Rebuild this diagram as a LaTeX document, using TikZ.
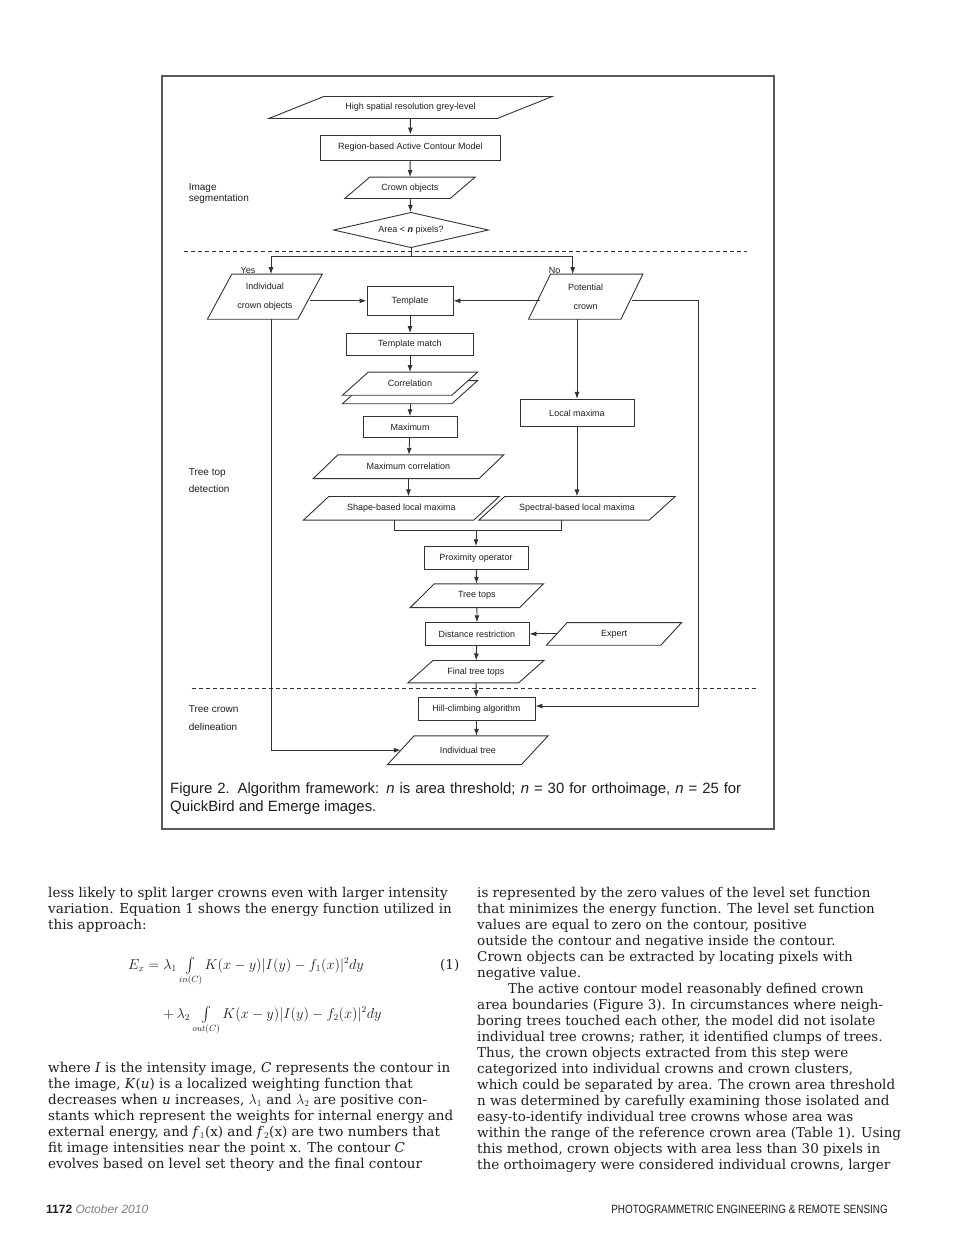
\documentclass[tikz,border=0pt]{standalone}
\usepackage{fontspec}
\setmainfont{DejaVu Serif}
\setsansfont{Liberation Sans}
\usetikzlibrary{shapes.geometric, arrows.meta}

\definecolor{inkc}{gray}{0.12}
\definecolor{linec}{gray}{0.2}
\newcommand{\flowfont}{\sffamily\fontsize{9}{10}\selectfont}
\newcommand{\paral}[3][]{\draw[flow, #1] ([xshift=#3]#2.north west) -- ([xshift=#3]#2.north east) -- ([xshift=-#3]#2.south east) -- ([xshift=-#3]#2.south west) -- cycle;}
\newcommand{\bigint}{\mathop{\vcenter{\hbox{\scalebox{1.5}{$\int$}}}}\limits}

\begin{document}
\begin{tikzpicture}[x=1pt, y=-1pt, >={Latex[length=7pt,width=5pt]},
  flow/.style={draw=linec, line width=0.9pt},
  box/.style={flow, rectangle, inner sep=0pt, font=\flowfont, text=inkc},
  para/.style={inner sep=0pt, font=\flowfont, text=inkc},
  twoline/.style={para, align=center, font=\sffamily\fontsize{9}{18.4}\selectfont},
  lbl/.style={anchor=west, inner sep=0pt, align=left, text=inkc, font=\sffamily\fontsize{10}{17.6}\selectfont},
  body/.style={anchor=base west, inner sep=0pt, text=inkc, font=\fontsize{13.5}{16}\selectfont},
  sep/.style={draw=linec, line width=0.8pt, dash pattern=on 4pt off 3pt}]
  \useasboundingbox (0,0) rectangle (960,1245);
  \fill[white] (0,0) rectangle (960,1245);
  \draw[gray!70!black, line width=1.6pt] (162,76) rectangle (774,829);

  \node[para, minimum width=228pt, minimum height=21.6pt] (hsr) at (410.5,107.5) {High spatial resolution grey-level};
  \node[box, minimum width=180.5pt, minimum height=25pt] (racm) at (410.3,147.5) {Region-based Active Contour Model};
  \node[para, minimum width=105pt, minimum height=21pt] (crown) at (410,187.8) {Crown objects};
  \node[flow, diamond, aspect=4.4, inner sep=0pt, minimum width=155pt, minimum height=35.4pt, font=\flowfont, text=inkc] (area) at (411,230) {Area < \textbf{\textit{n}} pixels?};
  \draw[sep] (183.8,251) -- (746.5,251);
  \node[font=\flowfont, text=inkc] (yes) at (248,270) {Yes};
  \node[font=\flowfont, text=inkc] (no) at (554.5,270) {No};
  \node[twoline, minimum width=90pt, minimum height=44.7pt] (indiv) at (264.8,296.7) {Individual\\crown objects};
  \node[box, minimum width=86pt, minimum height=28.3pt] (tmpl) at (410,300.8) {Template};
  \node[twoline, minimum width=92pt, minimum height=44.7pt] (pot) at (585.7,296.7) {Potential\\crown};
  \node[box, minimum width=127pt, minimum height=21.3pt] (tmatch) at (410,344.3) {Template match};
  \node[para, minimum width=109pt, minimum height=22.7pt] (corrb) at (410,392.2) {};
  \node[para, minimum width=109pt, minimum height=22.7pt] (corr) at (410,383.7) {};
  \node[box, minimum width=94pt, minimum height=21pt] (maxi) at (410,427.2) {Maximum};
  \node[box, minimum width=114pt, minimum height=27.4pt] (locmax) at (577,413) {Local maxima};
  \node[para, minimum width=165.5pt, minimum height=23.3pt] (mcorr) at (408.5,466.7) {Maximum correlation};
  \node[para, minimum width=170pt, minimum height=23.3pt] (shape) at (401.3,508.3) {Shape-based local maxima};
  \node[para, minimum width=170pt, minimum height=23.3pt] (spec) at (577,508.3) {Spectral-based local maxima};
  \node[box, minimum width=104pt, minimum height=22.6pt] (prox) at (476,558) {Proximity operator};
  \node[para, minimum width=109pt, minimum height=23.3pt] (tops) at (476.9,595.7) {Tree tops};
  \node[box, minimum width=104pt, minimum height=22.3pt] (dist) at (477,633.9) {Distance restriction};
  \node[para, minimum width=114pt, minimum height=22.3pt] (expert) at (614,633.9) {Expert};
  \node[para, minimum width=110.5pt, minimum height=22pt] (final) at (475.8,671.7) {Final tree tops};
  \draw[sep] (191.7,688.3) -- (757,688.3);
  \node[box, minimum width=117pt, minimum height=23pt] (hill) at (476.5,709.2) {Hill-climbing algorithm};
  \node[para, minimum width=133.5pt, minimum height=28.3pt] (itree) at (467.8,750.2) {Individual tree};

  \paral{hsr}{27.5pt}
  \paral{crown}{12.5pt}
  \paral{indiv}{12.2pt}
  \paral{pot}{11pt}
  \paral[fill=white]{corrb}{12.9pt}
  \paral[fill=white]{corr}{12.9pt}
  \node[para] (corrt) at (corr) {Correlation};
  \paral{mcorr}{12.3pt}
  \paral{shape}{12.7pt}
  \paral{spec}{13pt}
  \paral{tops}{11.9pt}
  \paral{expert}{10.4pt}
  \paral{final}{12.6pt}
  \paral{itree}{13.3pt}

  \node[lbl, font=\sffamily\fontsize{10}{10.7}\selectfont] (segl) at (188.6,193.6) {Image\\segmentation};
  \node[lbl] (topl) at (188.6,480.5) {Tree top\\detection};
  \node[lbl] (dell) at (188.6,717.8) {Tree crown\\delineation};

  \coordinate (yesx) at (271,256.7);
  \coordinate (nox) at (572.7,256.7);
  \coordinate (brl) at (394,530);
  \coordinate (brr) at (561,530);
  \coordinate (rlp) at (698,706);
  \coordinate (llp) at (271,750);
  \draw[flow, ->] (hsr) -- (racm);
  \draw[flow, ->] (racm) -- (crown);
  \draw[flow, ->] (crown) -- (area);
  \draw[flow, ->] (area.south) |- (yesx) -- (yesx |- indiv.north);
  \draw[flow, ->] (area.south |- nox) -- (nox) -- (nox |- pot.north);
  \draw[flow, ->] (indiv.east |- tmpl.west) -- (tmpl.west);
  \draw[flow, ->] (pot.west |- tmpl.east) -- (tmpl.east);
  \draw[flow, ->] (tmpl) -- (tmatch);
  \draw[flow, ->] (tmatch) -- (corr);
  \draw[flow, ->] (corrb.south) -- (maxi.north);
  \draw[flow, ->] (maxi) -- (mcorr);
  \draw[flow, ->] (mcorr.south) -- (mcorr.south |- shape.north);
  \draw[flow, ->] (locmax.north |- pot.south) -- (locmax.north);
  \draw[flow, ->] (locmax) -- (spec);
  \draw[flow] (brl |- shape.south) -- (brl) -- (brr) -- (brr |- spec.south);
  \draw[flow, ->] (prox.north |- brl) -- (prox.north);
  \draw[flow, ->] (prox) -- (tops);
  \draw[flow, ->] (tops) -- (dist);
  \draw[flow, ->] (expert.west) -- (dist.east);
  \draw[flow, ->] (dist) -- (final);
  \draw[flow, ->] (final) -- (hill);
  \draw[flow, ->] (hill.south) -- (hill.south |- itree.north);
  \draw[flow, ->] (pot.east |- tmpl.east) -| (rlp) -- (rlp -| hill.east);
  \draw[flow, ->] (llp |- indiv.south) |- (itree.west);

  \node[anchor=base west, inner sep=0pt, text=inkc, font=\sffamily\fontsize{14.9}{18}\selectfont] (cap1) at (170,793) {\makebox[571pt][s]{Figure 2. Algorithm framework: \textit{n} is area threshold; \textit{n} = 30 for orthoimage, \textit{n} = 25 for}};
  \node[anchor=base west, inner sep=0pt, text=inkc, font=\sffamily\fontsize{14.9}{18}\selectfont] (cap2) at (170,811) {QuickBird and Emerge images.};

  \node[body] (la) at (48,897) {less likely to split larger crowns even with larger intensity};
  \node[body] (lb) at (48,913) {variation. Equation 1 shows the energy function utilized in};
  \node[body] (lc) at (48,929) {this approach:};
  \node[body] (eqa) at (128,969) {$E_x = \lambda_1 \bigint_{in(C)} K(x-y)|I(y)-f_1(x)|^2dy$};
  \node[body] (eqn) at (440,969) {(1)};
  \node[body] (eqb) at (163,1018) {$+\,\lambda_2 \bigint_{out(C)} K(x-y)|I(y)-f_2(x)|^2dy$};
  \node[body] (wa) at (48,1072) {where \textit{I} is the intensity image, \textit{C} represents the contour in};
  \node[body] (wb) at (48,1088) {the image, \textit{K}(\textit{u}) is a localized weighting function that};
  \node[body] (wc) at (48,1104) {decreases when \textit{u} increases, $\lambda_1$ and $\lambda_2$ are positive con-};
  \node[body] (wd) at (48,1120) {stants which represent the weights for internal energy and};
  \node[body] (we) at (48,1136) {external energy, and \textit{f}$_1$(x) and \textit{f}$_2$(x) are two numbers that};
  \node[body] (wf) at (48,1152) {fit image intensities near the point x. The contour \textit{C}};
  \node[body] (wg) at (48,1168) {evolves based on level set theory and the final contour};

  \node[body] (ra) at (477,897) {is represented by the zero values of the level set function};
  \node[body] (rb) at (477,913) {that minimizes the energy function. The level set function};
  \node[body] (rc) at (477,929) {values are equal to zero on the contour, positive};
  \node[body] (rd) at (477,945) {outside the contour and negative inside the contour.};
  \node[body] (re) at (477,961) {Crown objects can be extracted by locating pixels with};
  \node[body] (rf) at (477,977) {negative value.};
  \node[body] (rg) at (508,993) {The active contour model reasonably defined crown};
  \node[body] (rh) at (477,1009) {area boundaries (Figure 3). In circumstances where neigh-};
  \node[body] (ri) at (477,1025) {boring trees touched each other, the model did not isolate};
  \node[body] (rj) at (477,1041) {individual tree crowns; rather, it identified clumps of trees.};
  \node[body] (rk) at (477,1057) {Thus, the crown objects extracted from this step were};
  \node[body] (rl) at (477,1073) {categorized into individual crowns and crown clusters,};
  \node[body] (rm) at (477,1089) {which could be separated by area. The crown area threshold};
  \node[body] (rn) at (477,1105) {n was determined by carefully examining those isolated and};
  \node[body] (ro) at (477,1121) {easy-to-identify individual tree crowns whose area was};
  \node[body] (rp) at (477,1137) {within the range of the reference crown area (Table 1). Using};
  \node[body] (rq) at (477,1153) {this method, crown objects with area less than 30 pixels in};
  \node[body] (rr) at (477,1169) {the orthoimagery were considered individual crowns, larger};

  \node[anchor=base west, inner sep=0pt, text=inkc, font=\sffamily\fontsize{12}{13}\selectfont] (pgno) at (46,1213) {\textbf{1172} \textcolor{gray}{\textit{October 2010}}};
  \node[anchor=base east, inner sep=0pt, text=inkc, font=\sffamily\fontsize{12}{13}\selectfont] (journ) at (888,1213) {\scalebox{0.825}[1]{PHOTOGRAMMETRIC ENGINEERING \& REMOTE SENSING}};
\end{tikzpicture}
\end{document}
